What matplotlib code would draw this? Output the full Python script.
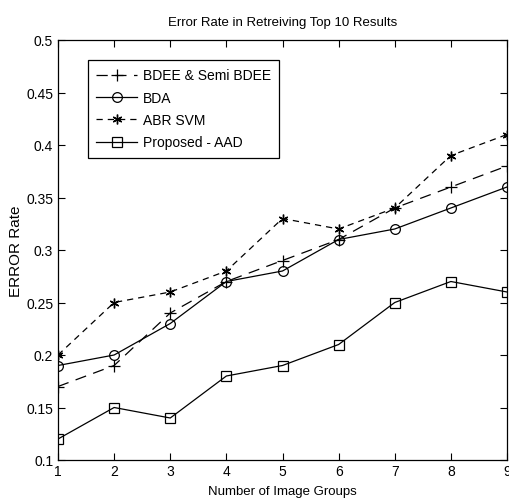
import matplotlib
matplotlib.use("Agg")
import matplotlib.pyplot as plt

# Data
groups = [1, 2, 3, 4, 5, 6, 7, 8, 9]
bdee = [0.17, 0.19, 0.24, 0.27, 0.29, 0.31, 0.34, 0.36, 0.38]
bda = [0.19, 0.20, 0.23, 0.27, 0.28, 0.31, 0.32, 0.34, 0.36]
abr_svm = [0.20, 0.25, 0.26, 0.28, 0.33, 0.32, 0.34, 0.39, 0.41]
proposed_aad = [0.12, 0.15, 0.14, 0.18, 0.19, 0.21, 0.25, 0.27, 0.26]
series_names = ["BDEE & Semi BDEE", "BDA", "ABR SVM", "Proposed - AAD"]
x_ticks = [1, 2, 3, 4, 5, 6, 7, 8, 9]
y_ticks = [0.1, 0.15, 0.2, 0.25, 0.3, 0.35, 0.4, 0.45, 0.5]

plt.rcParams["font.family"] = ["Liberation Sans", "DejaVu Sans"]

fig = plt.figure(figsize=(5.09, 5.02), dpi=100)
ax = fig.add_axes([58 / 509, 41 / 502, 449 / 509, 420 / 502])

lw = 0.9
ax.plot(groups, bdee, color="black", lw=lw, linestyle=(0, (9, 6)),
        marker="+", markersize=8, markeredgewidth=0.9, label=series_names[0])
ax.plot(groups, bda, color="black", lw=lw, linestyle="-",
        marker="o", markersize=7, markerfacecolor="none", markeredgewidth=0.9,
        label=series_names[1])
ax.plot(groups, abr_svm, color="black", lw=lw, linestyle=(0, (5, 4)),
        marker=(6, 2, 0), markersize=7, markeredgewidth=1.0, label=series_names[2])
ax.plot(groups, proposed_aad, color="black", lw=lw, linestyle="-",
        marker="s", markersize=7, markerfacecolor="none", markeredgewidth=0.9,
        label=series_names[3])

ax.set_xlim(1, 9)
ax.set_ylim(0.1, 0.5)
ax.set_xticks(x_ticks)
ax.set_xticklabels([str(v) for v in x_ticks])
ax.set_yticks(y_ticks)
ax.set_yticklabels([f"{v:g}" for v in y_ticks])

ax.tick_params(direction="in", top=True, right=True, length=5, width=0.8,
               labelsize=10)
ax.tick_params(axis="x", pad=3)
ax.tick_params(axis="y", pad=3.5)
for s in ax.spines.values():
    s.set_linewidth(0.9)

ax.set_title("Error Rate in Retreiving Top 10 Results", fontsize=9.5, pad=11)
ax.set_xlabel("Number of Image Groups", fontsize=9.5, labelpad=5)
ax.set_ylabel("ERROR Rate", fontsize=11, labelpad=2)

leg = ax.legend(loc="upper left", bbox_to_anchor=(0.067, 0.952),
                fontsize=10, frameon=True, fancybox=False, framealpha=1,
                edgecolor="black", handlelength=2.9, handletextpad=0.43,
                borderpad=0.6, labelspacing=0.6, borderaxespad=0)
leg.get_frame().set_linewidth(0.9)

fig.savefig("out.png", dpi=100)
